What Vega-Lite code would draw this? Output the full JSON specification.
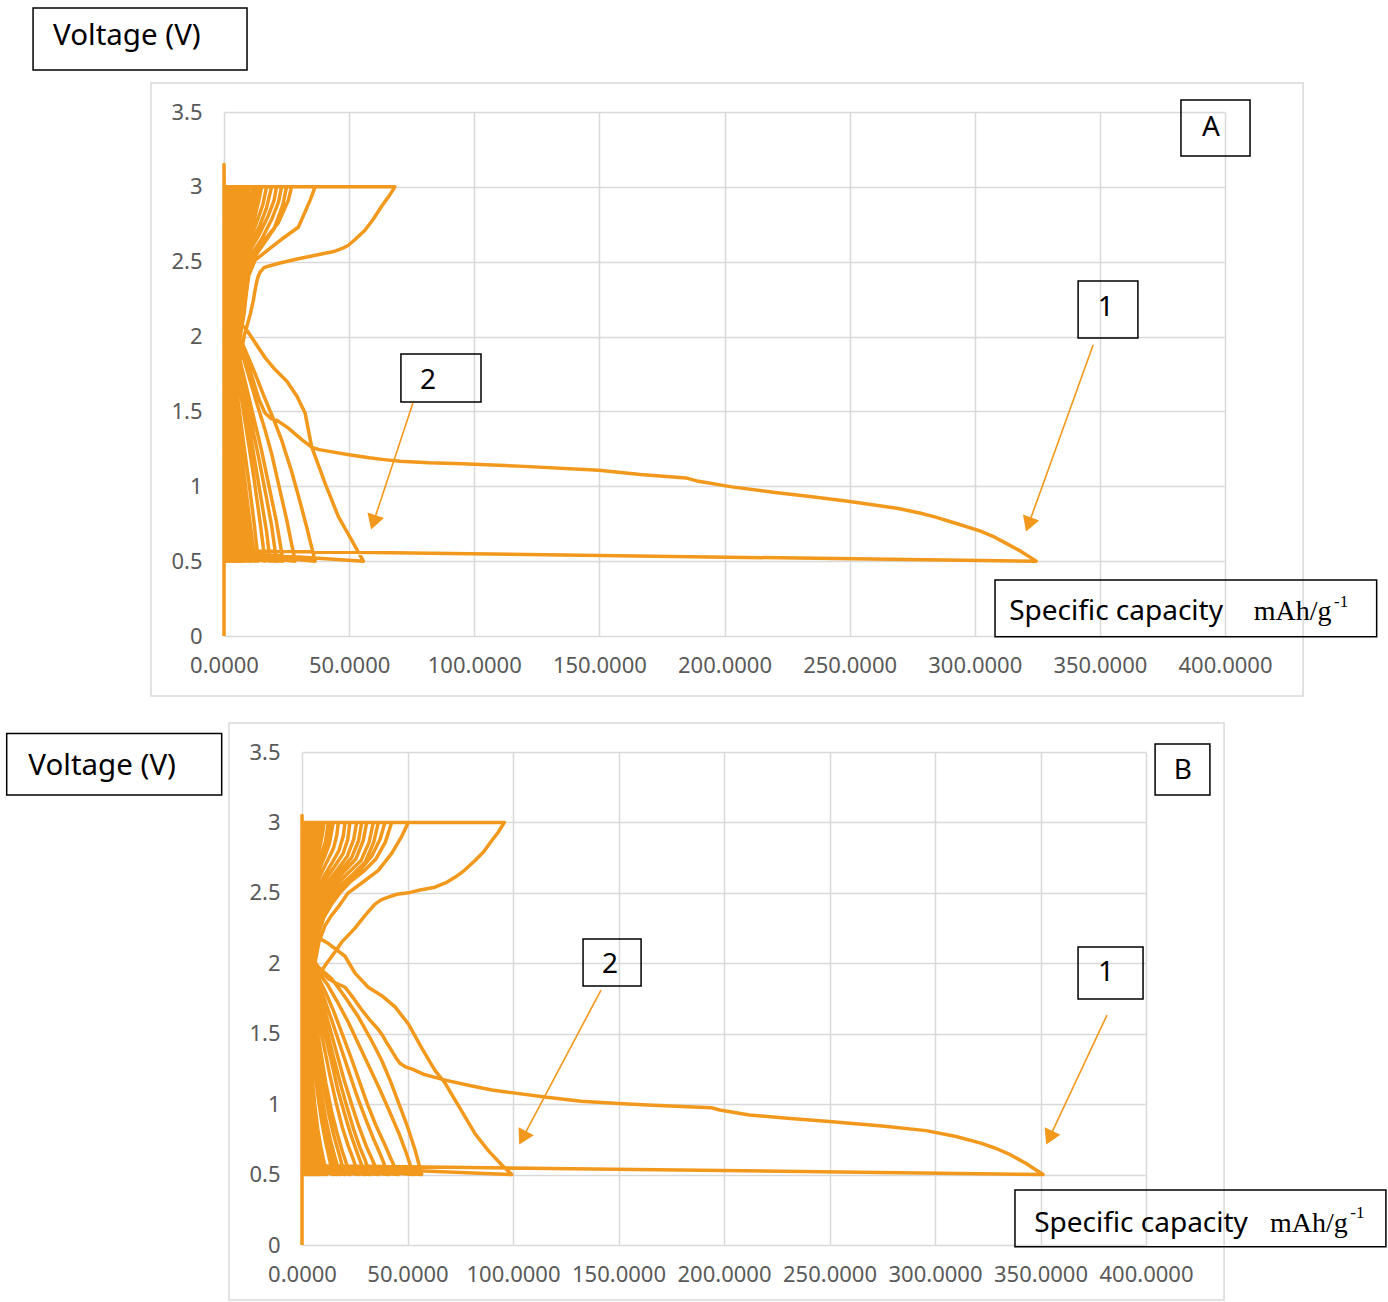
{
"$schema":"https://vega.github.io/schema/vega-lite/v6.json",
"background":"white",
"padding":{"left":5,"top":7,"right":0,"bottom":0},
"config":{"view":{"stroke":null},"font":"Noto Sans","axis":{"labelFont":"Noto Sans","labelFontSize":22,"labelColor":"#595959","domain":false,"ticks":false,"grid":true,"gridColor":"#D9D9D9","gridWidth":1.5,"labelOverlap":false,"labelFlush":false}},
"datasets":{
"a":[
{"x":0,"y":0},{"x":0,"y":3.15},
{"x":0.3,"y":2.7},{"x":0.6,"y":2.5},{"x":1.2,"y":2.3},{"x":2,"y":2.15},{"x":3.5,"y":2.07},{"x":5.6,"y":2.02},{"x":8.5,"y":1.88},{"x":11.2,"y":1.73},{"x":14,"y":1.58},{"x":16.4,"y":1.49},{"x":19,"y":1.45},{"x":21.2,"y":1.44},{"x":25.6,"y":1.39},{"x":31.2,"y":1.31},{"x":35.2,"y":1.26},{"x":38,"y":1.245},{"x":43.2,"y":1.23},{"x":50,"y":1.21},{"x":58,"y":1.19},{"x":64,"y":1.178},{"x":70.3,"y":1.167},{"x":82,"y":1.157},{"x":95.2,"y":1.151},{"x":120,"y":1.133},{"x":149.8,"y":1.107},{"x":166.4,"y":1.078},{"x":184.6,"y":1.056},{"x":189.6,"y":1.033},{"x":202.9,"y":0.996},{"x":219.4,"y":0.96},{"x":235,"y":0.93},{"x":249.3,"y":0.9},{"x":262,"y":0.87},{"x":270,"y":0.85},{"x":278,"y":0.822},{"x":284,"y":0.796},{"x":293,"y":0.75},{"x":302.3,"y":0.7},{"x":308,"y":0.66},{"x":312.2,"y":0.622},{"x":318.5,"y":0.565},{"x":324.6,"y":0.5},
{"x":0,"y":0.57},{"x":0.8,"y":0.8},{"x":2,"y":1.15},{"x":3.5,"y":1.45},{"x":5.5,"y":1.75},{"x":8,"y":2.0},{"x":10.5,"y":2.15},{"x":11.7,"y":2.24},{"x":12.3,"y":2.3},{"x":13,"y":2.36},{"x":13.6,"y":2.4},{"x":14.4,"y":2.43},{"x":16,"y":2.46},{"x":17.7,"y":2.47},{"x":22,"y":2.49},{"x":29.7,"y":2.52},{"x":37,"y":2.545},{"x":44.4,"y":2.57},{"x":47.5,"y":2.59},{"x":49.7,"y":2.61},{"x":52.5,"y":2.65},{"x":56.3,"y":2.71},{"x":59.5,"y":2.78},{"x":63,"y":2.87},{"x":66,"y":2.94},{"x":68.3,"y":3.0},
{"x":0,"y":3.0},{"x":0.5,"y":2.5},{"x":2,"y":2.2},{"x":5,"y":2.1},{"x":8.4,"y":2.06},{"x":12,"y":1.97},{"x":16.4,"y":1.86},{"x":20.4,"y":1.78},{"x":25.2,"y":1.7},{"x":29.2,"y":1.6},{"x":32.4,"y":1.49},{"x":35,"y":1.265},{"x":40.4,"y":1.02},{"x":45.7,"y":0.797},{"x":51,"y":0.64},{"x":55.7,"y":0.5},
{"x":0,"y":0.56},{"x":0.8,"y":0.85},{"x":2,"y":1.25},{"x":3.5,"y":1.6},{"x":5.5,"y":1.9},{"x":8,"y":2.15},{"x":9.7,"y":2.4},{"x":12.4,"y":2.51},{"x":17.7,"y":2.58},{"x":23,"y":2.65},{"x":29.7,"y":2.73},{"x":34.4,"y":2.91},{"x":36.4,"y":3.0},
{"x":0,"y":3.0},{"x":0.4,"y":2.5},{"x":1.8,"y":2.2},{"x":4.5,"y":2.05},{"x":8,"y":1.93},{"x":12,"y":1.77},{"x":16,"y":1.6},{"x":20,"y":1.44},{"x":23,"y":1.31},{"x":27,"y":1.1},{"x":30,"y":0.92},{"x":33,"y":0.73},{"x":36.4,"y":0.5},
{"x":0,"y":0.56},{"x":0.7,"y":0.9},{"x":1.8,"y":1.3},{"x":3.2,"y":1.65},{"x":5,"y":1.95},{"x":7.5,"y":2.2},{"x":9.1,"y":2.31},{"x":10.4,"y":2.47},{"x":12.4,"y":2.56},{"x":16.4,"y":2.65},{"x":21.7,"y":2.76},{"x":25.7,"y":2.91},{"x":27,"y":3.0},
{"x":0,"y":3.0},{"x":0.4,"y":2.5},{"x":1.5,"y":2.2},{"x":4,"y":2.05},{"x":7,"y":1.9},{"x":10,"y":1.73},{"x":13,"y":1.56},{"x":16,"y":1.4},{"x":19,"y":1.22},{"x":22,"y":1.0},{"x":25,"y":0.78},{"x":28.4,"y":0.5},
{"x":0,"y":0.55},{"x":0.6,"y":0.9},{"x":1.6,"y":1.3},{"x":3,"y":1.65},{"x":4.8,"y":1.95},{"x":7,"y":2.2},{"x":9,"y":2.38},{"x":11,"y":2.5},{"x":15,"y":2.6},{"x":20,"y":2.72},{"x":23.5,"y":2.88},{"x":25,"y":3.0},
{"x":0,"y":3.0},{"x":0.3,"y":2.5},{"x":1.3,"y":2.2},{"x":3.5,"y":2.02},{"x":6,"y":1.87},{"x":9,"y":1.66},{"x":12,"y":1.45},{"x":15,"y":1.24},{"x":18,"y":1.0},{"x":21,"y":0.76},{"x":23.6,"y":0.5},
{"x":0,"y":0.55},{"x":0.6,"y":0.95},{"x":1.5,"y":1.35},{"x":2.8,"y":1.7},{"x":4.5,"y":2.0},{"x":6.5,"y":2.25},{"x":8.5,"y":2.42},{"x":11,"y":2.55},{"x":15,"y":2.65},{"x":19,"y":2.78},{"x":21.8,"y":2.9},{"x":23,"y":3.0},
{"x":0,"y":3.0},{"x":0.3,"y":2.5},{"x":1.2,"y":2.2},{"x":3,"y":2.03},{"x":5.5,"y":1.86},{"x":8,"y":1.66},{"x":11,"y":1.42},{"x":14,"y":1.18},{"x":17,"y":0.92},{"x":19,"y":0.74},{"x":21,"y":0.5},
{"x":0,"y":0.55},{"x":0.5,"y":0.95},{"x":1.4,"y":1.35},{"x":2.6,"y":1.7},{"x":4.2,"y":2.0},{"x":6,"y":2.25},{"x":8,"y":2.45},{"x":10.5,"y":2.58},{"x":14,"y":2.68},{"x":17.5,"y":2.8},{"x":20,"y":2.91},{"x":21,"y":3.0},
{"x":0,"y":3.0},{"x":0.3,"y":2.5},{"x":1,"y":2.2},{"x":2.7,"y":2.03},{"x":5,"y":1.85},{"x":7.5,"y":1.63},{"x":10,"y":1.4},{"x":12.5,"y":1.15},{"x":15,"y":0.9},{"x":17,"y":0.7},{"x":18.4,"y":0.5},
{"x":0,"y":0.55},{"x":0.5,"y":1.0},{"x":1.3,"y":1.4},{"x":2.4,"y":1.75},{"x":4,"y":2.05},{"x":5.8,"y":2.3},{"x":7.8,"y":2.48},{"x":10.5,"y":2.62},{"x":14,"y":2.73},{"x":17,"y":2.86},{"x":19,"y":3.0},
{"x":0,"y":3.0},{"x":0.3,"y":2.45},{"x":1,"y":2.15},{"x":2.5,"y":2.0},{"x":4.5,"y":1.82},{"x":7,"y":1.58},{"x":9.5,"y":1.32},{"x":12,"y":1.05},{"x":14.5,"y":0.75},{"x":16.4,"y":0.5},
{"x":0,"y":0.55},{"x":0.5,"y":1.0},{"x":1.2,"y":1.45},{"x":2.2,"y":1.8},{"x":3.6,"y":2.1},{"x":5.4,"y":2.35},{"x":7.5,"y":2.52},{"x":10,"y":2.64},{"x":13,"y":2.76},{"x":15.5,"y":2.88},{"x":17,"y":3.0},
{"x":0,"y":3.0},{"x":0.2,"y":2.45},{"x":0.8,"y":2.15},{"x":2,"y":2.0},{"x":4,"y":1.78},{"x":6,"y":1.52},{"x":8,"y":1.27},{"x":10,"y":1.02},{"x":12,"y":0.76},{"x":13.7,"y":0.5},
{"x":0,"y":0.55},{"x":0.4,"y":1.0},{"x":1.1,"y":1.45},{"x":2,"y":1.8},{"x":3.3,"y":2.1},{"x":5,"y":2.37},{"x":7,"y":2.54},{"x":9.5,"y":2.67},{"x":12,"y":2.78},{"x":13.8,"y":2.9},{"x":15,"y":3.0},
{"x":0,"y":3.0},{"x":0.2,"y":2.4},{"x":0.7,"y":2.1},{"x":1.8,"y":1.95},{"x":3.4,"y":1.72},{"x":5.4,"y":1.45},{"x":7.4,"y":1.17},{"x":9.3,"y":0.9},{"x":11,"y":0.68},{"x":12.3,"y":0.5},
{"x":0,"y":0.55},{"x":0.4,"y":1.05},{"x":1,"y":1.48},{"x":1.9,"y":1.83},{"x":3.1,"y":2.13},{"x":4.7,"y":2.4},{"x":6.8,"y":2.57},{"x":9.3,"y":2.7},{"x":11.8,"y":2.82},{"x":14,"y":3.0},
{"x":0,"y":3.0},{"x":0.2,"y":2.4},{"x":0.7,"y":2.12},{"x":1.7,"y":1.98},{"x":3.2,"y":1.75},{"x":5,"y":1.48},{"x":6.8,"y":1.2},{"x":8.5,"y":0.95},{"x":10,"y":0.7},{"x":11,"y":0.5},
{"x":0,"y":0.55},{"x":0.4,"y":1.05},{"x":1,"y":1.5},{"x":1.8,"y":1.85},{"x":3,"y":2.15},{"x":4.5,"y":2.4},{"x":6.5,"y":2.58},{"x":9,"y":2.72},{"x":11.5,"y":2.85},{"x":13,"y":3.0},
{"x":0,"y":3.0},{"x":0.2,"y":2.4},{"x":0.6,"y":2.1},{"x":1.6,"y":1.95},{"x":3,"y":1.73},{"x":4.7,"y":1.46},{"x":6.4,"y":1.19},{"x":8,"y":0.93},{"x":9.3,"y":0.7},{"x":10.2,"y":0.5},
{"x":0,"y":0.55},{"x":0.35,"y":1.05},{"x":0.95,"y":1.5},{"x":1.7,"y":1.85},{"x":2.85,"y":2.15},{"x":4.2,"y":2.41},{"x":6.1,"y":2.59},{"x":8.5,"y":2.73},{"x":10.8,"y":2.86},{"x":12,"y":3.0},
{"x":0,"y":3.0},{"x":0.2,"y":2.4},{"x":0.6,"y":2.1},{"x":1.5,"y":1.95},{"x":2.8,"y":1.72},{"x":4.3,"y":1.45},{"x":5.9,"y":1.18},{"x":7.4,"y":0.92},{"x":8.6,"y":0.7},{"x":9.5,"y":0.5},
{"x":0,"y":0.55},{"x":0.3,"y":1.05},{"x":0.9,"y":1.5},{"x":1.6,"y":1.85},{"x":2.7,"y":2.15},{"x":4,"y":2.42},{"x":5.8,"y":2.6},{"x":8,"y":2.74},{"x":10.2,"y":2.87},{"x":11.5,"y":3.0},
{"x":0,"y":3.0},{"x":0.2,"y":2.4},{"x":0.5,"y":2.1},{"x":1.3,"y":1.94},{"x":2.5,"y":1.7},{"x":3.8,"y":1.42},{"x":5.2,"y":1.15},{"x":6.5,"y":0.9},{"x":7.6,"y":0.68},{"x":8.4,"y":0.5},
{"x":0,"y":0.55},{"x":0.3,"y":1.05},{"x":0.8,"y":1.5},{"x":1.5,"y":1.87},{"x":2.4,"y":2.18},{"x":3.6,"y":2.43},{"x":5.2,"y":2.62},{"x":7.2,"y":2.76},{"x":9,"y":2.88},{"x":10,"y":3.0},
{"x":0,"y":3.0},{"x":0.15,"y":2.4},{"x":0.5,"y":2.1},{"x":1.2,"y":1.92},{"x":2.2,"y":1.68},{"x":3.4,"y":1.4},{"x":4.7,"y":1.12},{"x":5.9,"y":0.88},{"x":6.8,"y":0.68},{"x":7.5,"y":0.5},
{"x":0,"y":0.55},{"x":0.3,"y":1.1},{"x":0.7,"y":1.55},{"x":1.3,"y":1.9},{"x":2.2,"y":2.2},{"x":3.3,"y":2.45},{"x":4.8,"y":2.63},{"x":6.6,"y":2.78},{"x":8.1,"y":2.9},{"x":9,"y":3.0},
{"x":0,"y":3.0},{"x":0.15,"y":2.4},{"x":0.5,"y":2.08},{"x":1.3,"y":1.85},{"x":2.6,"y":1.5},{"x":4,"y":1.15},{"x":5.4,"y":0.82},{"x":6.4,"y":0.6},{"x":7.1,"y":0.5},
{"x":0,"y":0.55},{"x":0.3,"y":1.2},{"x":0.8,"y":1.7},{"x":1.6,"y":2.1},{"x":2.8,"y":2.42},{"x":4.3,"y":2.65},{"x":6,"y":2.8},{"x":7.6,"y":3.0},
{"x":0,"y":3.0},{"x":0.15,"y":2.4},{"x":0.45,"y":2.08},{"x":1.1,"y":1.9},{"x":2,"y":1.66},{"x":3.1,"y":1.38},{"x":4.3,"y":1.1},{"x":5.4,"y":0.86},{"x":6.2,"y":0.67},{"x":6.8,"y":0.5},
{"x":0,"y":0.55},{"x":0.25,"y":1.1},{"x":0.65,"y":1.55},{"x":1.2,"y":1.9},{"x":2,"y":2.2},{"x":3,"y":2.45},{"x":4.3,"y":2.64},{"x":5.9,"y":2.79},{"x":7.2,"y":2.9},{"x":8,"y":3.0},
{"x":0,"y":3.0},{"x":0.12,"y":2.4},{"x":0.4,"y":2.08},{"x":1.1,"y":1.85},{"x":2.2,"y":1.5},{"x":3.4,"y":1.15},{"x":4.6,"y":0.82},{"x":5.5,"y":0.6},{"x":6.1,"y":0.5},
{"x":0,"y":0.55},{"x":0.25,"y":1.2},{"x":0.7,"y":1.7},{"x":1.4,"y":2.1},{"x":2.4,"y":2.42},{"x":3.7,"y":2.65},{"x":5.2,"y":2.8},{"x":6.6,"y":3.0},
{"x":0,"y":3.0},{"x":0.15,"y":2.35},{"x":0.5,"y":2.05},{"x":1.5,"y":1.8},{"x":3,"y":1.35},{"x":4.5,"y":0.9},{"x":6,"y":0.5},
{"x":0,"y":0.55},{"x":0.25,"y":1.1},{"x":0.7,"y":1.6},{"x":1.5,"y":2.05},{"x":3,"y":2.45},{"x":5,"y":2.72},{"x":7,"y":3.0},
{"x":0,"y":3.0},{"x":0.1,"y":2.35},{"x":0.45,"y":2.05},{"x":1.3,"y":1.8},{"x":2.6,"y":1.35},{"x":4,"y":0.9},{"x":5.3,"y":0.5},
{"x":0,"y":0.55},{"x":0.2,"y":1.1},{"x":0.6,"y":1.6},{"x":1.3,"y":2.05},{"x":2.6,"y":2.45},{"x":4.4,"y":2.72},{"x":6.2,"y":3.0},
{"x":0,"y":3.0},{"x":0.1,"y":2.4},{"x":0.35,"y":2.08},{"x":0.9,"y":1.85},{"x":1.8,"y":1.5},{"x":2.8,"y":1.15},{"x":3.8,"y":0.82},{"x":4.6,"y":0.6},{"x":5.1,"y":0.5},
{"x":0,"y":0.55},{"x":0.2,"y":1.2},{"x":0.6,"y":1.7},{"x":1.2,"y":2.1},{"x":2,"y":2.42},{"x":3.1,"y":2.65},{"x":4.4,"y":2.8},{"x":5.7,"y":3.0},
{"x":0,"y":3.0},{"x":0.1,"y":2.35},{"x":0.4,"y":2.05},{"x":1.1,"y":1.8},{"x":2.2,"y":1.35},{"x":3.4,"y":0.9},{"x":4.6,"y":0.5},
{"x":0,"y":0.55},{"x":0.2,"y":1.1},{"x":0.5,"y":1.6},{"x":1.1,"y":2.05},{"x":2.2,"y":2.45},{"x":3.8,"y":2.72},{"x":5.4,"y":3.0},
{"x":0,"y":3.0},{"x":0.1,"y":2.4},{"x":0.3,"y":2.08},{"x":0.75,"y":1.85},{"x":1.5,"y":1.5},{"x":2.3,"y":1.15},{"x":3.1,"y":0.82},{"x":3.7,"y":0.6},{"x":4.2,"y":0.5},
{"x":0,"y":0.55},{"x":0.2,"y":1.2},{"x":0.5,"y":1.7},{"x":1,"y":2.1},{"x":1.7,"y":2.42},{"x":2.6,"y":2.65},{"x":3.7,"y":2.8},{"x":4.9,"y":3.0},
{"x":0,"y":3.0},{"x":0.1,"y":2.35},{"x":0.35,"y":2.05},{"x":1,"y":1.8},{"x":1.9,"y":1.35},{"x":3,"y":0.9},{"x":4,"y":0.5},
{"x":0,"y":0.55},{"x":0.15,"y":1.1},{"x":0.45,"y":1.6},{"x":1,"y":2.05},{"x":1.9,"y":2.45},{"x":3.3,"y":2.72},{"x":4.7,"y":3.0},
{"x":0,"y":3.0},{"x":0.1,"y":2.35},{"x":0.3,"y":2.05},{"x":0.8,"y":1.8},{"x":1.6,"y":1.35},{"x":2.5,"y":0.9},{"x":3.4,"y":0.5},
{"x":0,"y":0.55},{"x":0.15,"y":1.1},{"x":0.4,"y":1.6},{"x":0.85,"y":2.05},{"x":1.6,"y":2.45},{"x":2.8,"y":2.72},{"x":4,"y":3.0},
{"x":0,"y":3.0},{"x":0.08,"y":2.4},{"x":0.25,"y":2.08},{"x":0.6,"y":1.85},{"x":1.2,"y":1.5},{"x":1.8,"y":1.15},{"x":2.4,"y":0.82},{"x":2.9,"y":0.6},{"x":3.2,"y":0.5},
{"x":0,"y":0.55},{"x":0.15,"y":1.2},{"x":0.4,"y":1.7},{"x":0.8,"y":2.1},{"x":1.4,"y":2.42},{"x":2.1,"y":2.65},{"x":2.9,"y":2.8},{"x":3.8,"y":3.0},
{"x":0,"y":3.0},{"x":0.08,"y":2.35},{"x":0.25,"y":2.05},{"x":0.7,"y":1.8},{"x":1.3,"y":1.35},{"x":2.1,"y":0.9},{"x":2.8,"y":0.5},
{"x":0,"y":0.55},{"x":0.1,"y":1.1},{"x":0.3,"y":1.6},{"x":0.7,"y":2.05},{"x":1.3,"y":2.45},{"x":2.3,"y":2.72},{"x":3.3,"y":3.0},
{"x":0,"y":3.0},{"x":0.06,"y":2.4},{"x":0.2,"y":2.08},{"x":0.45,"y":1.85},{"x":0.9,"y":1.5},{"x":1.35,"y":1.15},{"x":1.8,"y":0.82},{"x":2.1,"y":0.6},{"x":2.4,"y":0.5},
{"x":0,"y":0.55},{"x":0.1,"y":1.2},{"x":0.3,"y":1.7},{"x":0.6,"y":2.1},{"x":1,"y":2.42},{"x":1.5,"y":2.65},{"x":2.1,"y":2.8},{"x":2.9,"y":3.0},
{"x":0,"y":3.0},{"x":0.2,"y":2.05},{"x":0.6,"y":1.8},{"x":1.1,"y":1.35},{"x":1.7,"y":0.9},{"x":2.2,"y":0.5},
{"x":0,"y":0.55},{"x":0.25,"y":1.6},{"x":0.55,"y":2.05},{"x":1.1,"y":2.45},{"x":1.8,"y":2.72},{"x":2.6,"y":3.0},
{"x":0,"y":3.0},{"x":0.1,"y":2.08},{"x":0.3,"y":1.85},{"x":0.6,"y":1.5},{"x":0.9,"y":1.15},{"x":1.2,"y":0.82},{"x":1.5,"y":0.5},
{"x":0,"y":0.55},{"x":0.2,"y":1.7},{"x":0.4,"y":2.1},{"x":0.7,"y":2.42},{"x":1.1,"y":2.65},{"x":1.5,"y":2.8},{"x":2,"y":3.0},
{"x":0,"y":3.0},{"x":0.15,"y":1.85},{"x":0.3,"y":1.5},{"x":0.5,"y":1.15},{"x":0.7,"y":0.82},{"x":0.9,"y":0.5},
{"x":0,"y":0.55},{"x":0.1,"y":1.7},{"x":0.25,"y":2.1},{"x":0.45,"y":2.42},{"x":0.7,"y":2.65},{"x":1.2,"y":3.0}
],
"b":[
{"x":0,"y":0},{"x":0,"y":3.05},
{"x":0.3,"y":2.7},{"x":0.6,"y":2.5},{"x":1.4,"y":2.3},{"x":2.5,"y":2.15},{"x":4,"y":2.06},{"x":6,"y":2.0},{"x":9,"y":1.94},{"x":12.5,"y":1.89},{"x":16,"y":1.86},{"x":20.4,"y":1.83},{"x":24,"y":1.76},{"x":28.3,"y":1.67},{"x":32,"y":1.6},{"x":36.2,"y":1.53},{"x":38.5,"y":1.48},{"x":40,"y":1.44},{"x":42.5,"y":1.38},{"x":44.5,"y":1.33},{"x":46.4,"y":1.29},{"x":49,"y":1.265},{"x":52,"y":1.25},{"x":58,"y":1.21},{"x":63,"y":1.19},{"x":68.4,"y":1.169},{"x":80,"y":1.13},{"x":90,"y":1.1},{"x":100.3,"y":1.08},{"x":115,"y":1.05},{"x":132.2,"y":1.021},{"x":150,"y":1.005},{"x":166.1,"y":0.993},{"x":194,"y":0.974},{"x":198,"y":0.958},{"x":212,"y":0.923},{"x":230,"y":0.9},{"x":249.9,"y":0.876},{"x":275,"y":0.845},{"x":295.8,"y":0.812},{"x":310,"y":0.77},{"x":321.7,"y":0.723},{"x":329,"y":0.685},{"x":335.7,"y":0.641},{"x":343,"y":0.58},{"x":351.2,"y":0.5},
{"x":0,"y":0.565},{"x":0.7,"y":0.8},{"x":1.4,"y":1.0},{"x":2.5,"y":1.3},{"x":3.8,"y":1.55},{"x":6,"y":1.8},{"x":8.5,"y":1.93},{"x":11.7,"y":2.0},{"x":15.6,"y":2.08},{"x":18.8,"y":2.15},{"x":22,"y":2.2},{"x":25.1,"y":2.25},{"x":29.9,"y":2.34},{"x":34.6,"y":2.42},{"x":37.5,"y":2.45},{"x":40.9,"y":2.47},{"x":45,"y":2.49},{"x":50.4,"y":2.5},{"x":56,"y":2.52},{"x":63,"y":2.54},{"x":68,"y":2.57},{"x":72.5,"y":2.61},{"x":77,"y":2.66},{"x":82,"y":2.73},{"x":86,"y":2.79},{"x":89.9,"y":2.87},{"x":93,"y":2.93},{"x":95.9,"y":3.0},
{"x":0,"y":3.0},{"x":0.5,"y":2.5},{"x":1.5,"y":2.3},{"x":4,"y":2.22},{"x":8,"y":2.18},{"x":12.5,"y":2.14},{"x":16,"y":2.1},{"x":20.4,"y":2.05},{"x":25.1,"y":1.93},{"x":31.4,"y":1.83},{"x":37.8,"y":1.77},{"x":44.1,"y":1.69},{"x":50.4,"y":1.57},{"x":56.7,"y":1.4},{"x":63,"y":1.24},{"x":67.8,"y":1.15},{"x":72.5,"y":1.03},{"x":77.3,"y":0.91},{"x":82,"y":0.79},{"x":88.3,"y":0.67},{"x":94.6,"y":0.57},{"x":99.4,"y":0.5},
{"x":0,"y":0.56},{"x":0.8,"y":0.9},{"x":2,"y":1.3},{"x":3.5,"y":1.65},{"x":5.5,"y":1.95},{"x":8,"y":2.15},{"x":11,"y":2.27},{"x":14,"y":2.34},{"x":17.2,"y":2.4},{"x":21.9,"y":2.5},{"x":28.3,"y":2.57},{"x":36.2,"y":2.66},{"x":42.5,"y":2.78},{"x":47.2,"y":2.9},{"x":50.4,"y":3.0},
{"x":0,"y":3.0},{"x":0.4,"y":2.4},{"x":1.5,"y":2.15},{"x":4,"y":2.05},{"x":8,"y":1.97},{"x":14.1,"y":1.89},{"x":20.4,"y":1.76},{"x":26.7,"y":1.62},{"x":33,"y":1.45},{"x":37.8,"y":1.31},{"x":42,"y":1.16},{"x":46,"y":1.0},{"x":50,"y":0.84},{"x":53.5,"y":0.68},{"x":56.7,"y":0.5},
{"x":0,"y":0.56},{"x":0.7,"y":0.95},{"x":1.8,"y":1.35},{"x":3.2,"y":1.7},{"x":5,"y":2.0},{"x":7.5,"y":2.2},{"x":10.5,"y":2.33},{"x":14,"y":2.42},{"x":18,"y":2.5},{"x":23,"y":2.58},{"x":29,"y":2.65},{"x":35,"y":2.74},{"x":39.5,"y":2.86},{"x":42.5,"y":3.0},
{"x":0,"y":3.0},{"x":0.4,"y":2.4},{"x":1.4,"y":2.15},{"x":3.8,"y":2.03},{"x":7.5,"y":1.94},{"x":12,"y":1.85},{"x":17,"y":1.72},{"x":22,"y":1.58},{"x":27,"y":1.42},{"x":32,"y":1.26},{"x":37,"y":1.1},{"x":42,"y":0.93},{"x":46,"y":0.79},{"x":49.5,"y":0.65},{"x":52.8,"y":0.5},
{"x":0,"y":0.56},{"x":0.6,"y":0.95},{"x":1.6,"y":1.35},{"x":3,"y":1.7},{"x":4.8,"y":2.0},{"x":7,"y":2.2},{"x":10,"y":2.34},{"x":13.5,"y":2.44},{"x":18,"y":2.53},{"x":23,"y":2.6},{"x":28,"y":2.67},{"x":33,"y":2.76},{"x":37,"y":2.88},{"x":39.3,"y":3.0},
{"x":0,"y":3.0},{"x":0.3,"y":2.4},{"x":1.3,"y":2.15},{"x":3.5,"y":2.02},{"x":7,"y":1.92},{"x":11,"y":1.8},{"x":15,"y":1.66},{"x":19,"y":1.5},{"x":23,"y":1.34},{"x":27,"y":1.17},{"x":31,"y":1.0},{"x":35,"y":0.85},{"x":39,"y":0.72},{"x":42.5,"y":0.6},{"x":45.6,"y":0.5},
{"x":0,"y":0.56},{"x":0.6,"y":1.0},{"x":1.5,"y":1.4},{"x":2.8,"y":1.75},{"x":4.5,"y":2.02},{"x":6.7,"y":2.22},{"x":9.5,"y":2.36},{"x":13,"y":2.46},{"x":18,"y":2.55},{"x":24,"y":2.63},{"x":30,"y":2.72},{"x":34,"y":2.86},{"x":36.2,"y":3.0},
{"x":0,"y":3.0},{"x":0.3,"y":2.4},{"x":1.2,"y":2.14},{"x":3.3,"y":2.01},{"x":6.5,"y":1.9},{"x":10,"y":1.77},{"x":14,"y":1.6},{"x":18,"y":1.42},{"x":22,"y":1.24},{"x":26,"y":1.06},{"x":30,"y":0.9},{"x":34,"y":0.75},{"x":37.5,"y":0.63},{"x":40.9,"y":0.5},
{"x":0,"y":0.56},{"x":0.5,"y":1.0},{"x":1.4,"y":1.4},{"x":2.6,"y":1.75},{"x":4.2,"y":2.03},{"x":6.3,"y":2.24},{"x":9,"y":2.38},{"x":12.5,"y":2.48},{"x":17,"y":2.57},{"x":22.5,"y":2.65},{"x":28,"y":2.73},{"x":31.8,"y":2.86},{"x":33.8,"y":3.0},
{"x":0,"y":3.0},{"x":0.3,"y":2.4},{"x":1.1,"y":2.13},{"x":3,"y":2.0},{"x":6,"y":1.88},{"x":9.5,"y":1.73},{"x":13,"y":1.55},{"x":16.5,"y":1.36},{"x":20,"y":1.17},{"x":23.5,"y":1.0},{"x":27,"y":0.84},{"x":30.5,"y":0.7},{"x":33.5,"y":0.6},{"x":36.2,"y":0.5},
{"x":0,"y":0.56},{"x":0.5,"y":1.0},{"x":1.3,"y":1.42},{"x":2.4,"y":1.77},{"x":3.9,"y":2.05},{"x":5.8,"y":2.26},{"x":8.3,"y":2.4},{"x":11.5,"y":2.5},{"x":15.5,"y":2.58},{"x":20.5,"y":2.66},{"x":25.5,"y":2.74},{"x":29,"y":2.87},{"x":30.7,"y":3.0},
{"x":0,"y":3.0},{"x":0.25,"y":2.4},{"x":1,"y":2.12},{"x":2.8,"y":1.99},{"x":5.5,"y":1.86},{"x":8.5,"y":1.7},{"x":11.8,"y":1.52},{"x":15,"y":1.33},{"x":18.5,"y":1.13},{"x":21.5,"y":0.97},{"x":24.5,"y":0.82},{"x":27.5,"y":0.69},{"x":30,"y":0.6},{"x":32.2,"y":0.5},
{"x":0,"y":0.56},{"x":0.5,"y":1.02},{"x":1.2,"y":1.43},{"x":2.2,"y":1.78},{"x":3.6,"y":2.06},{"x":5.4,"y":2.27},{"x":7.7,"y":2.41},{"x":10.7,"y":2.51},{"x":14.5,"y":2.59},{"x":19,"y":2.67},{"x":23.5,"y":2.75},{"x":26.8,"y":2.87},{"x":28.3,"y":3.0},
{"x":0,"y":3.0},{"x":0.25,"y":2.4},{"x":0.9,"y":2.12},{"x":2.6,"y":1.98},{"x":5,"y":1.85},{"x":8,"y":1.68},{"x":11,"y":1.49},{"x":14,"y":1.3},{"x":17,"y":1.1},{"x":20,"y":0.94},{"x":23,"y":0.79},{"x":25.8,"y":0.67},{"x":28,"y":0.58},{"x":29.9,"y":0.5},
{"x":0,"y":0.56},{"x":0.45,"y":1.02},{"x":1.1,"y":1.44},{"x":2,"y":1.79},{"x":3.3,"y":2.07},{"x":5,"y":2.28},{"x":7.2,"y":2.42},{"x":10,"y":2.52},{"x":13.5,"y":2.6},{"x":17.5,"y":2.68},{"x":21.5,"y":2.76},{"x":24.5,"y":2.88},{"x":25.9,"y":3.0},
{"x":0,"y":3.0},{"x":0.2,"y":2.4},{"x":0.8,"y":2.1},{"x":2.3,"y":1.97},{"x":4.5,"y":1.83},{"x":7,"y":1.65},{"x":10,"y":1.44},{"x":13,"y":1.22},{"x":16,"y":1.02},{"x":19,"y":0.84},{"x":22,"y":0.7},{"x":24.5,"y":0.6},{"x":26.7,"y":0.5},
{"x":0,"y":0.56},{"x":0.4,"y":1.05},{"x":1,"y":1.47},{"x":1.8,"y":1.82},{"x":3,"y":2.1},{"x":4.6,"y":2.3},{"x":6.6,"y":2.44},{"x":9.2,"y":2.54},{"x":12.3,"y":2.62},{"x":16,"y":2.7},{"x":19.5,"y":2.78},{"x":21.7,"y":2.88},{"x":22.7,"y":3.0},
{"x":0,"y":3.0},{"x":0.2,"y":2.4},{"x":0.7,"y":2.1},{"x":2,"y":1.96},{"x":4,"y":1.8},{"x":6.3,"y":1.6},{"x":8.8,"y":1.38},{"x":11.3,"y":1.15},{"x":14,"y":0.95},{"x":16.7,"y":0.79},{"x":19.2,"y":0.66},{"x":21,"y":0.58},{"x":22.7,"y":0.5},
{"x":0,"y":0.56},{"x":0.35,"y":1.05},{"x":0.9,"y":1.48},{"x":1.6,"y":1.83},{"x":2.7,"y":2.12},{"x":4.2,"y":2.32},{"x":6,"y":2.46},{"x":8.4,"y":2.56},{"x":11.3,"y":2.64},{"x":14.5,"y":2.72},{"x":17.5,"y":2.8},{"x":19.5,"y":2.9},{"x":20.4,"y":3.0},
{"x":0,"y":3.0},{"x":0.2,"y":2.4},{"x":0.6,"y":2.1},{"x":1.8,"y":1.95},{"x":3.6,"y":1.78},{"x":5.7,"y":1.57},{"x":8,"y":1.34},{"x":10.3,"y":1.12},{"x":12.7,"y":0.93},{"x":15.2,"y":0.77},{"x":17.5,"y":0.65},{"x":19,"y":0.57},{"x":20.4,"y":0.5},
{"x":0,"y":0.56},{"x":0.3,"y":1.08},{"x":0.8,"y":1.5},{"x":1.4,"y":1.85},{"x":2.4,"y":2.14},{"x":3.7,"y":2.35},{"x":5.3,"y":2.48},{"x":7.3,"y":2.58},{"x":9.8,"y":2.66},{"x":12.5,"y":2.74},{"x":15,"y":2.82},{"x":16.5,"y":2.91},{"x":17.2,"y":3.0},
{"x":0,"y":3.0},{"x":0.15,"y":2.4},{"x":0.55,"y":2.1},{"x":1.6,"y":1.94},{"x":3.2,"y":1.75},{"x":5,"y":1.53},{"x":7,"y":1.3},{"x":9,"y":1.09},{"x":11.2,"y":0.9},{"x":13.4,"y":0.75},{"x":15.5,"y":0.63},{"x":18,"y":0.5},
{"x":0,"y":0.56},{"x":0.3,"y":1.1},{"x":0.7,"y":1.52},{"x":1.25,"y":1.87},{"x":2.1,"y":2.16},{"x":3.2,"y":2.37},{"x":4.6,"y":2.5},{"x":6.4,"y":2.6},{"x":8.5,"y":2.68},{"x":10.8,"y":2.76},{"x":13,"y":2.85},{"x":14.8,"y":3.0},
{"x":0,"y":3.0},{"x":0.15,"y":2.4},{"x":0.5,"y":2.1},{"x":1.45,"y":1.93},{"x":2.9,"y":1.74},{"x":4.5,"y":1.51},{"x":6.4,"y":1.28},{"x":8.2,"y":1.07},{"x":10.2,"y":0.89},{"x":12.3,"y":0.74},{"x":14.2,"y":0.62},{"x":16.4,"y":0.5},
{"x":0,"y":0.56},{"x":0.28,"y":1.1},{"x":0.65,"y":1.52},{"x":1.18,"y":1.87},{"x":1.95,"y":2.16},{"x":3,"y":2.37},{"x":4.3,"y":2.51},{"x":5.9,"y":2.61},{"x":7.9,"y":2.69},{"x":10,"y":2.77},{"x":12.1,"y":2.86},{"x":13.6,"y":3.0},
{"x":0,"y":3.0},{"x":0.15,"y":2.4},{"x":0.45,"y":2.1},{"x":1.3,"y":1.93},{"x":2.6,"y":1.73},{"x":4.1,"y":1.5},{"x":5.8,"y":1.27},{"x":7.5,"y":1.06},{"x":9.3,"y":0.88},{"x":11.2,"y":0.73},{"x":13,"y":0.61},{"x":14.8,"y":0.5},
{"x":0,"y":0.56},{"x":0.25,"y":1.1},{"x":0.6,"y":1.53},{"x":1.1,"y":1.88},{"x":1.8,"y":2.17},{"x":2.8,"y":2.38},{"x":4,"y":2.52},{"x":5.5,"y":2.62},{"x":7.3,"y":2.7},{"x":9.3,"y":2.78},{"x":11.2,"y":2.87},{"x":12.5,"y":3.0},
{"x":0,"y":3.0},{"x":0.1,"y":2.4},{"x":0.4,"y":2.08},{"x":1.1,"y":1.92},{"x":2.1,"y":1.7},{"x":3.3,"y":1.46},{"x":4.6,"y":1.22},{"x":6,"y":1.0},{"x":7.5,"y":0.82},{"x":9,"y":0.69},{"x":10.4,"y":0.59},{"x":11.7,"y":0.5},
{"x":0,"y":0.56},{"x":0.2,"y":1.1},{"x":0.5,"y":1.55},{"x":0.9,"y":1.9},{"x":1.5,"y":2.2},{"x":2.4,"y":2.4},{"x":3.5,"y":2.54},{"x":4.8,"y":2.64},{"x":6.3,"y":2.72},{"x":8,"y":2.8},{"x":9.5,"y":2.9},{"x":10.5,"y":3.0},
{"x":0,"y":3.0},{"x":0.12,"y":2.4},{"x":0.4,"y":2.07},{"x":1,"y":1.91},{"x":1.9,"y":1.69},{"x":3,"y":1.44},{"x":4.2,"y":1.2},{"x":5.5,"y":0.98},{"x":6.9,"y":0.8},{"x":8.3,"y":0.67},{"x":9.5,"y":0.58},{"x":10.5,"y":0.5},
{"x":0,"y":0.56},{"x":0.2,"y":1.11},{"x":0.5,"y":1.56},{"x":0.85,"y":1.91},{"x":1.4,"y":2.21},{"x":2.25,"y":2.41},{"x":3.3,"y":2.55},{"x":4.55,"y":2.65},{"x":6,"y":2.73},{"x":7.6,"y":2.82},{"x":8.9,"y":2.92},{"x":9.7,"y":3.0},
{"x":0,"y":3.0},{"x":0.1,"y":2.4},{"x":0.35,"y":2.06},{"x":0.9,"y":1.9},{"x":1.7,"y":1.68},{"x":2.7,"y":1.42},{"x":3.8,"y":1.17},{"x":5,"y":0.95},{"x":6.3,"y":0.77},{"x":7.6,"y":0.64},{"x":9.3,"y":0.5},
{"x":0,"y":0.56},{"x":0.2,"y":1.12},{"x":0.45,"y":1.57},{"x":0.8,"y":1.92},{"x":1.3,"y":2.22},{"x":2.1,"y":2.42},{"x":3.1,"y":2.56},{"x":4.3,"y":2.66},{"x":5.7,"y":2.74},{"x":7.2,"y":2.83},{"x":9,"y":3.0},
{"x":0,"y":3.0},{"x":0.1,"y":2.35},{"x":0.5,"y":2.0},{"x":1.4,"y":1.7},{"x":2.6,"y":1.3},{"x":3.9,"y":0.98},{"x":5.4,"y":0.75},{"x":6.8,"y":0.61},{"x":8,"y":0.5},
{"x":0,"y":0.56},{"x":0.2,"y":1.15},{"x":0.5,"y":1.65},{"x":1,"y":2.05},{"x":1.8,"y":2.38},{"x":2.9,"y":2.58},{"x":4.3,"y":2.7},{"x":6,"y":2.8},{"x":7.8,"y":3.0},
{"x":0,"y":3.0},{"x":0.15,"y":2.35},{"x":0.5,"y":2.0},{"x":1.3,"y":1.7},{"x":2.5,"y":1.3},{"x":3.7,"y":0.98},{"x":5,"y":0.75},{"x":6.3,"y":0.61},{"x":7.5,"y":0.5},
{"x":0,"y":0.56},{"x":0.2,"y":1.15},{"x":0.5,"y":1.65},{"x":1,"y":2.05},{"x":1.7,"y":2.38},{"x":2.7,"y":2.58},{"x":4,"y":2.7},{"x":5.6,"y":2.8},{"x":7.3,"y":3.0},
{"x":0,"y":3.0},{"x":0.1,"y":2.35},{"x":0.45,"y":2.0},{"x":1.2,"y":1.7},{"x":2.3,"y":1.3},{"x":3.4,"y":0.98},{"x":4.7,"y":0.75},{"x":5.9,"y":0.61},{"x":7,"y":0.5},
{"x":0,"y":0.56},{"x":0.2,"y":1.15},{"x":0.45,"y":1.65},{"x":0.9,"y":2.05},{"x":1.6,"y":2.38},{"x":2.5,"y":2.58},{"x":3.7,"y":2.7},{"x":5.2,"y":2.8},{"x":6.8,"y":3.0},
{"x":0,"y":3.0},{"x":0.1,"y":2.35},{"x":0.4,"y":2.0},{"x":1.1,"y":1.7},{"x":2.1,"y":1.3},{"x":3.1,"y":0.98},{"x":4.3,"y":0.75},{"x":5.4,"y":0.61},{"x":6.5,"y":0.5},
{"x":0,"y":0.56},{"x":0.15,"y":1.15},{"x":0.4,"y":1.65},{"x":0.85,"y":2.05},{"x":1.5,"y":2.38},{"x":2.3,"y":2.58},{"x":3.4,"y":2.7},{"x":4.8,"y":2.8},{"x":6.3,"y":3.0},
{"x":0,"y":3.0},{"x":0.1,"y":2.35},{"x":0.4,"y":2.0},{"x":1,"y":1.7},{"x":1.9,"y":1.3},{"x":2.9,"y":0.98},{"x":4,"y":0.75},{"x":5.1,"y":0.61},{"x":6,"y":0.5},
{"x":0,"y":0.56},{"x":0.15,"y":1.15},{"x":0.4,"y":1.65},{"x":0.8,"y":2.05},{"x":1.4,"y":2.38},{"x":2.2,"y":2.58},{"x":3.2,"y":2.7},{"x":4.5,"y":2.8},{"x":5.9,"y":3.0},
{"x":0,"y":3.0},{"x":0.1,"y":2.35},{"x":0.35,"y":2.0},{"x":0.9,"y":1.7},{"x":1.75,"y":1.3},{"x":2.6,"y":0.98},{"x":3.6,"y":0.75},{"x":4.6,"y":0.61},{"x":5.5,"y":0.5},
{"x":0,"y":0.56},{"x":0.15,"y":1.15},{"x":0.35,"y":1.65},{"x":0.75,"y":2.05},{"x":1.3,"y":2.38},{"x":2,"y":2.58},{"x":2.9,"y":2.7},{"x":4.1,"y":2.8},{"x":5.4,"y":3.0},
{"x":0,"y":3.0},{"x":0.3,"y":2.0},{"x":0.85,"y":1.7},{"x":1.6,"y":1.3},{"x":2.4,"y":0.98},{"x":3.4,"y":0.75},{"x":4.3,"y":0.61},{"x":5,"y":0.5},
{"x":0,"y":0.56},{"x":0.3,"y":1.65},{"x":0.7,"y":2.05},{"x":1.2,"y":2.38},{"x":1.9,"y":2.58},{"x":2.8,"y":2.7},{"x":3.8,"y":2.8},{"x":5,"y":3.0},
{"x":0,"y":3.0},{"x":0.08,"y":2.35},{"x":0.3,"y":2.0},{"x":0.75,"y":1.7},{"x":1.4,"y":1.3},{"x":2.1,"y":0.98},{"x":2.9,"y":0.75},{"x":3.7,"y":0.61},{"x":4.5,"y":0.5},
{"x":0,"y":0.56},{"x":0.1,"y":1.15},{"x":0.3,"y":1.65},{"x":0.6,"y":2.05},{"x":1.05,"y":2.38},{"x":1.65,"y":2.58},{"x":2.4,"y":2.7},{"x":3.4,"y":2.8},{"x":4.6,"y":3.0},
{"x":0,"y":3.0},{"x":0.25,"y":2.0},{"x":0.7,"y":1.7},{"x":1.3,"y":1.3},{"x":2,"y":0.98},{"x":2.7,"y":0.75},{"x":3.4,"y":0.61},{"x":4,"y":0.5},
{"x":0,"y":0.56},{"x":0.25,"y":1.65},{"x":0.55,"y":2.05},{"x":1,"y":2.38},{"x":1.6,"y":2.58},{"x":2.3,"y":2.7},{"x":3.1,"y":2.8},{"x":4.1,"y":3.0},
{"x":0,"y":3.0},{"x":0.2,"y":2.0},{"x":0.55,"y":1.7},{"x":1.05,"y":1.3},{"x":1.6,"y":0.98},{"x":2.2,"y":0.75},{"x":2.9,"y":0.61},{"x":3.5,"y":0.5},
{"x":0,"y":0.56},{"x":0.2,"y":1.65},{"x":0.45,"y":2.05},{"x":0.8,"y":2.38},{"x":1.3,"y":2.58},{"x":1.9,"y":2.7},{"x":2.7,"y":2.8},{"x":3.7,"y":3.0},
{"x":0,"y":3.0},{"x":0.2,"y":2.0},{"x":0.5,"y":1.7},{"x":1,"y":1.3},{"x":1.5,"y":0.98},{"x":2,"y":0.75},{"x":2.5,"y":0.61},{"x":3,"y":0.5},
{"x":0,"y":0.56},{"x":0.2,"y":1.65},{"x":0.45,"y":2.05},{"x":0.8,"y":2.38},{"x":1.25,"y":2.58},{"x":1.8,"y":2.7},{"x":2.4,"y":2.8},{"x":3.2,"y":3.0},
{"x":0,"y":3.0},{"x":0.15,"y":2.0},{"x":0.35,"y":1.7},{"x":0.65,"y":1.3},{"x":1,"y":0.98},{"x":1.35,"y":0.75},{"x":1.7,"y":0.61},{"x":2,"y":0.5},
{"x":0,"y":0.56},{"x":0.15,"y":1.65},{"x":0.3,"y":2.05},{"x":0.55,"y":2.38},{"x":0.9,"y":2.58},{"x":1.3,"y":2.7},{"x":1.75,"y":2.8},{"x":2.3,"y":3.0},
{"x":0,"y":3.0},{"x":0.12,"y":2.0},{"x":0.3,"y":1.7},{"x":0.6,"y":1.3},{"x":0.9,"y":0.98},{"x":1.2,"y":0.75},{"x":1.5,"y":0.5},
{"x":0,"y":0.56},{"x":0.1,"y":1.65},{"x":0.25,"y":2.05},{"x":0.45,"y":2.38},{"x":0.75,"y":2.58},{"x":1.1,"y":2.7},{"x":1.6,"y":3.0}
]
},
"bounds":"flush",
"spacing":116,
"vconcat":[
{"width":1001,"height":524,
 "layer":[
  {"data":{"values":[{}]},"mark":{"type":"rect","filled":false,"stroke":"#D9D9D9","strokeWidth":1.5,"clip":false},
   "encoding":{"x":{"datum":-29.17,"type":"quantitative"},"x2":{"datum":431.2},"y":{"datum":3.694,"type":"quantitative"},"y2":{"datum":-0.401}}},
  {"data":{"name":"a"},"mark":{"type":"line","color":"#F2981C","strokeWidth":3.5,"strokeJoin":"round","clip":false},
   "encoding":{
    "x":{"field":"x","type":"quantitative","scale":{"domain":[0,400],"nice":false},"axis":{"title":null,"grid":true,"values":[0,50,100,150,200,250,300,350,400],"format":".4f","labelPadding":19}},
    "y":{"field":"y","type":"quantitative","scale":{"domain":[0,3.5],"nice":false},"axis":{"title":null,"grid":true,"values":[0,0.5,1,1.5,2,2.5,3,3.5],"format":"~g","labelPadding":22}},
    "order":{"value":null}}},
  {"data":{"values":[{"x1":-76.3,"x2":9.2,"y1":4.195,"y2":3.781},{"x1":382.4,"x2":410.0,"y1":3.58,"y2":3.206},{"x1":341.3,"x2":365.2,"y1":2.371,"y2":1.991},{"x1":70.7,"x2":102.7,"y1":1.884,"y2":1.563},{"x1":308.1,"x2":460.6,"y1":0.374,"y2":-0.005}]},
   "mark":{"type":"rect","filled":false,"stroke":"black","strokeWidth":1.5,"clip":false},
   "encoding":{"x":{"field":"x1","type":"quantitative"},"x2":{"field":"x2"},"y":{"field":"y1","type":"quantitative"},"y2":{"field":"y2"}}},
  {"data":{"values":[{"x":394.4,"y":3.393,"t":"A"},{"x":352.4,"y":2.191,"t":"1"},{"x":81.5,"y":1.703,"t":"2"}]},
   "mark":{"type":"text","fontSize":28,"align":"center","baseline":"middle","color":"black","clip":false},
   "encoding":{"x":{"field":"x","type":"quantitative"},"y":{"field":"y","type":"quantitative"},"text":{"field":"t"}}},
  {"data":{"values":[{"x":75.5,"y":1.556,"x2":59.7,"y2":0.759},{"x":347.3,"y":1.944,"x2":321.5,"y2":0.745}]},
   "mark":{"type":"rule","color":"#F2981C","strokeWidth":1.6,"clip":false},
   "encoding":{"x":{"field":"x","type":"quantitative"},"y":{"field":"y","type":"quantitative"},"x2":{"field":"x2"},"y2":{"field":"y2"}}},
  {"data":{"values":[{}]},"mark":{"type":"point","shape":"triangle-up","filled":true,"size":300,"angle":198.3,"color":"#F2981C","opacity":1,"clip":false},
   "encoding":{"x":{"datum":59.7,"type":"quantitative"},"y":{"datum":0.759,"type":"quantitative"}}},
  {"data":{"values":[{}]},"mark":{"type":"point","shape":"triangle-up","filled":true,"size":300,"angle":200,"color":"#F2981C","opacity":1,"clip":false},
   "encoding":{"x":{"datum":321.5,"type":"quantitative"},"y":{"datum":0.745,"type":"quantitative"}}},
  {"data":{"values":[{}]},"mark":{"type":"text","text":"Voltage (V)","fontSize":29.5,"align":"left","baseline":"alphabetic","color":"black","clip":false},
   "encoding":{"x":{"datum":-68.3,"type":"quantitative"},"y":{"datum":3.948,"type":"quantitative"}}},
  {"data":{"values":[{}]},"mark":{"type":"text","text":"Specific capacity","fontSize":28,"align":"right","baseline":"alphabetic","color":"black","clip":false},
   "encoding":{"x":{"datum":399.2,"type":"quantitative"},"y":{"datum":0.107,"type":"quantitative"}}},
  {"data":{"values":[{}]},"mark":{"type":"text","text":"mAh/g","font":"Liberation Serif","fontSize":28,"align":"left","baseline":"alphabetic","color":"black","clip":false},
   "encoding":{"x":{"datum":411.5,"type":"quantitative"},"y":{"datum":0.107,"type":"quantitative"}}},
  {"data":{"values":[{}]},"mark":{"type":"text","text":"-1","font":"Liberation Serif","fontSize":17,"align":"left","baseline":"alphabetic","color":"black","clip":false},
   "encoding":{"x":{"datum":443.6,"type":"quantitative"},"y":{"datum":0.194,"type":"quantitative"}}}
 ]},
{"bounds":"flush","spacing":0,
 "hconcat":[
  {"width":78,"height":493,"data":{"values":[{}]},"mark":{"type":"text","text":""}},
  {"width":844,"height":493,
   "layer":[
    {"data":{"values":[{}]},"mark":{"type":"rect","filled":false,"stroke":"#D9D9D9","strokeWidth":1.5,"clip":false},
     "encoding":{"x":{"datum":-34.6,"type":"quantitative"},"x2":{"datum":437},"y":{"datum":3.705,"type":"quantitative"},"y2":{"datum":-0.39}}},
    {"data":{"name":"b"},"mark":{"type":"line","color":"#F2981C","strokeWidth":3.5,"strokeJoin":"round","clip":false},
     "encoding":{
      "x":{"field":"x","type":"quantitative","scale":{"domain":[0,400],"nice":false},"axis":{"title":null,"grid":true,"values":[0,50,100,150,200,250,300,350,400],"format":".4f","labelPadding":19}},
      "y":{"field":"y","type":"quantitative","scale":{"domain":[0,3.5],"nice":false},"axis":{"title":null,"grid":true,"values":[0,0.5,1,1.5,2,2.5,3,3.5],"format":"~g","labelPadding":22}},
      "order":{"value":null}}},
    {"data":{"values":[{"x1":-139.95,"x2":-38.06,"y1":3.632,"y2":3.194},{"x1":404.3,"x2":430.3,"y1":3.556,"y2":3.194},{"x1":133.2,"x2":160.7,"y1":2.172,"y2":1.838},{"x1":367.8,"x2":398.6,"y1":2.115,"y2":1.746},{"x1":337.9,"x2":513.7,"y1":0.39,"y2":-0.012}]},
     "mark":{"type":"rect","filled":false,"stroke":"black","strokeWidth":1.5,"clip":false},
     "encoding":{"x":{"field":"x1","type":"quantitative"},"x2":{"field":"x2"},"y":{"field":"y1","type":"quantitative"},"y2":{"field":"y2"}}},
    {"data":{"values":[{"x":417.5,"y":3.364,"t":"B"},{"x":146,"y":1.987,"t":"2"},{"x":381,"y":1.93,"t":"1"}]},
     "mark":{"type":"text","fontSize":28,"align":"center","baseline":"middle","color":"black","clip":false},
     "encoding":{"x":{"field":"x","type":"quantitative"},"y":{"field":"y","type":"quantitative"},"text":{"field":"t"}}},
    {"data":{"values":[{"x":141.7,"y":1.81,"x2":104.6,"y2":0.76},{"x":381.5,"y":1.632,"x2":354.2,"y2":0.761}]},
     "mark":{"type":"rule","color":"#F2981C","strokeWidth":1.6,"clip":false},
     "encoding":{"x":{"field":"x","type":"quantitative"},"y":{"field":"y","type":"quantitative"},"x2":{"field":"x2"},"y2":{"field":"y2"}}},
    {"data":{"values":[{}]},"mark":{"type":"point","shape":"triangle-up","filled":true,"size":300,"angle":207.9,"color":"#F2981C","opacity":1,"clip":false},
     "encoding":{"x":{"datum":104.6,"type":"quantitative"},"y":{"datum":0.76,"type":"quantitative"}}},
    {"data":{"values":[{}]},"mark":{"type":"point","shape":"triangle-up","filled":true,"size":300,"angle":205,"color":"#F2981C","opacity":1,"clip":false},
     "encoding":{"x":{"datum":354.2,"type":"quantitative"},"y":{"datum":0.761,"type":"quantitative"}}},
    {"data":{"values":[{}]},"mark":{"type":"text","text":"Voltage (V)","fontSize":29.5,"align":"left","baseline":"alphabetic","color":"black","clip":false},
     "encoding":{"x":{"datum":-129.7,"type":"quantitative"},"y":{"datum":3.336,"type":"quantitative"}}},
    {"data":{"values":[{}]},"mark":{"type":"text","text":"Specific capacity","fontSize":28,"align":"right","baseline":"alphabetic","color":"black","clip":false},
     "encoding":{"x":{"datum":448.3,"type":"quantitative"},"y":{"datum":0.094,"type":"quantitative"}}},
    {"data":{"values":[{}]},"mark":{"type":"text","text":"mAh/g","font":"Liberation Serif","fontSize":28,"align":"left","baseline":"alphabetic","color":"black","clip":false},
     "encoding":{"x":{"datum":458.8,"type":"quantitative"},"y":{"datum":0.094,"type":"quantitative"}}},
    {"data":{"values":[{}]},"mark":{"type":"text","text":"-1","font":"Liberation Serif","fontSize":17,"align":"left","baseline":"alphabetic","color":"black","clip":false},
     "encoding":{"x":{"datum":496.8,"type":"quantitative"},"y":{"datum":0.192,"type":"quantitative"}}}
   ]}
 ]}
]
}
